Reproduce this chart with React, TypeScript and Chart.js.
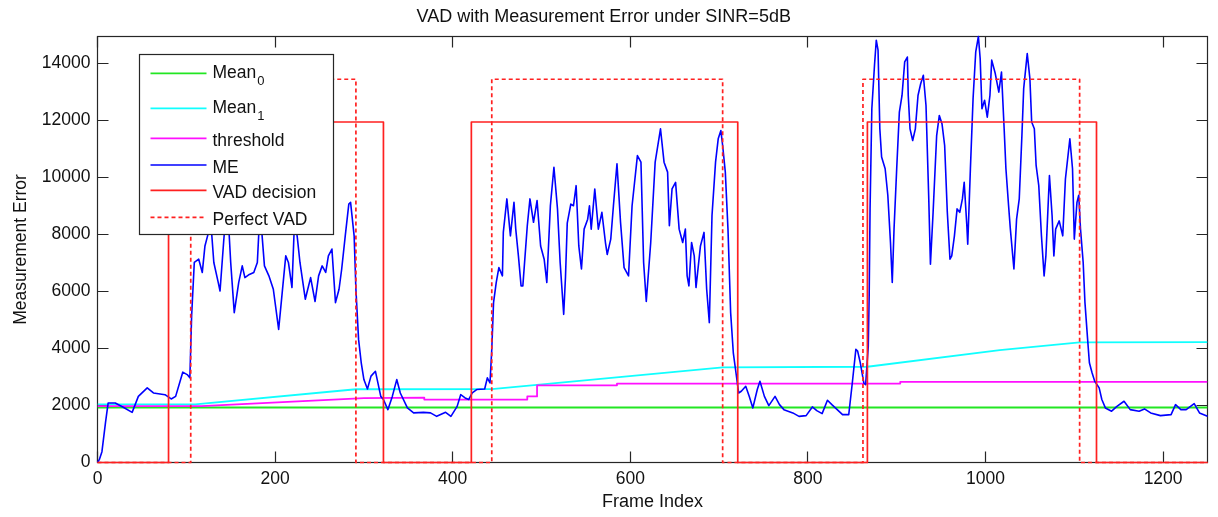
import { useEffect, useRef } from 'react';
import { Chart, registerables } from 'chart.js';

Chart.register(...registerables);

const FONT = "'Liberation Sans', Arial, Helvetica, sans-serif";

const chartTitle = 'VAD with Measurement Error under SINR=5dB';
const xTitle = 'Frame Index';
const yTitle = 'Measurement Error';
const xTicks = [0, 200, 400, 600, 800, 1000, 1200];
const yTicks = [0, 2000, 4000, 6000, 8000, 10000, 12000, 14000];
const xMax = 1250;
const yMax = 14950;

const meFrames = [
  0, 2, 5, 9, 12, 20, 30, 39, 46, 56, 63, 76, 83, 88, 96, 101, 104, 106, 109, 114,
  118, 121, 125, 127, 131, 136, 138, 142, 146, 150, 154, 159, 163, 166, 171, 176, 180, 183, 188, 193,
  198, 204, 208, 212, 215, 219, 222, 225, 228, 234, 240, 245, 249, 253, 257, 260, 264, 266, 268, 272,
  275, 279, 283, 285, 289, 291, 294, 297, 300, 304, 308, 313, 319, 322, 327, 332, 337, 341, 349, 356,
  367, 375, 382, 392, 398, 405, 409, 414, 418, 422, 427, 436, 439, 442, 444, 446, 449, 452, 456, 457,
  461, 465, 469, 471, 474, 477, 479, 484, 487, 491, 495, 499, 503, 506, 510, 514, 518, 521, 525, 527,
  529, 533, 536, 539, 542, 545, 548, 552, 554, 556, 560, 564, 568, 572, 574, 578, 581, 585, 589, 593,
  598, 602, 608, 612, 615, 618, 623, 628, 634, 638, 642, 644, 647, 651, 655, 659, 662, 664, 666, 669,
  672, 674, 679, 683, 686, 689, 692, 696, 699, 702, 704, 707, 710, 713, 716, 719, 722, 725, 730, 734,
  738, 743, 746, 751, 756, 763, 768, 773, 783, 790, 798, 805, 810, 816, 822, 827, 833, 839, 846, 850,
  854, 856, 859, 863, 865, 868, 869, 870, 872, 875, 877, 879, 881, 883, 887, 890, 893, 895, 897, 900,
  903, 906, 909, 912, 913, 915, 918, 921, 924, 927, 930, 933, 936, 938, 941, 945, 948, 951, 954, 957,
  960, 962, 965, 968, 971, 974, 976, 979, 980, 983, 986, 989, 992, 994, 996, 999, 1002, 1005, 1007, 1011,
  1015, 1018, 1021, 1023, 1026, 1028, 1032, 1035, 1038, 1041, 1043, 1047, 1050, 1052, 1055, 1057, 1060, 1063, 1066, 1068,
  1072, 1075, 1077, 1079, 1083, 1087, 1090, 1095, 1098, 1100, 1103, 1105, 1107, 1110, 1112, 1115, 1117, 1120, 1123, 1128,
  1131, 1135, 1142, 1148, 1156, 1163, 1173, 1179, 1186, 1197, 1209, 1214, 1220, 1226, 1235, 1241, 1250,
];
const meValues = [
  0, 100, 380, 1400, 2090, 2090, 1920, 1760, 2320, 2620, 2440, 2380, 2230, 2320, 3170, 3085, 2970, 5140, 7020, 7135,
  6670, 7600, 8075, 8700, 7020, 6315, 6020, 7720, 9300, 7020, 5260, 6315, 6900, 6490, 6600, 6670, 7020, 8900, 6900, 6550,
  6080, 4670, 5960, 7250, 7020, 6140, 8600, 7900, 7020, 5730, 6490, 5650, 6550, 6900, 6670, 7250, 7490, 6550, 5610, 6080,
  6790, 7955, 9070, 9130, 7955, 6080, 4320, 3500, 2910, 2580, 3030, 3200, 2320, 2210, 1855, 2320, 2910, 2440, 1915, 1740,
  1760, 1740, 1620, 1760, 1620, 1970, 2380, 2265, 2210, 2440, 2560, 2580, 2970, 2790, 3970, 5610, 6315, 6840, 6550, 8075,
  9250, 7955, 9130, 8190, 7250, 6200, 6200, 8310, 9250, 8430, 9190, 7600, 7135, 6315, 9010, 10360, 8900, 7020, 5200, 6500,
  8400, 9070, 9010, 9715, 7600, 6790, 8190, 8540, 9010, 8190, 9600, 8190, 8780, 7720, 7300, 7840, 9010, 10480, 8430, 6840,
  6550, 9010, 10770, 10540, 7020, 5650, 7720, 10540, 11710, 10540, 10190, 8310, 9600, 9830, 8190, 7720, 8190, 6550, 6200, 7720,
  7250, 6140, 7600, 8075, 6080, 4910, 8660, 10540, 11360, 11650, 11125, 10190, 8190, 5260, 3850, 3150, 2440, 2500, 2675, 2320,
  1915, 2560, 2850, 2320, 1995, 2320, 2030, 1855, 1740, 1620, 1645, 1950, 1820, 1715, 2185, 2030, 1855, 1680, 1680, 2790,
  3970, 3910, 3500, 2790, 2730, 4085, 5840, 8900, 12415, 13940, 14820, 14470, 11710, 10720, 10310, 9380, 7720, 6315, 8190, 10310,
  12300, 12880, 14060, 14230, 12880, 11710, 11300, 11710, 12880, 13290, 13590, 12530, 9380, 6960, 8780, 11475, 12180, 11890, 11125, 8780,
  7135, 7250, 7955, 8900, 8780, 9250, 9830, 8310, 7660, 10310, 12765, 14410, 14950, 14180, 12415, 12710, 12120, 12880, 14120, 13650,
  13000, 13700, 11710, 10310, 9010, 8190, 6790, 8540, 9250, 11475, 13120, 14350, 13470, 11950, 11710, 10430, 9715, 7955, 6550, 7250,
  10070, 8660, 7250, 8190, 8480, 7955, 9950, 11360, 10310, 7840, 9130, 9380, 8190, 7020, 5610, 4320, 3500, 3150, 2850, 2620,
  2210, 1915, 1800, 1970, 2150, 1855, 1800, 1880, 1740, 1645, 1680, 2030, 1855, 1855, 2065, 1740, 1620,
];

const mean0Frames = [0, 1250];
const mean0Values = [1930, 1930];

const mean1Frames = [0, 110, 291, 444, 704, 867, 1016, 1106, 1250];
const mean1Values = [2040, 2040, 2570, 2575, 3340, 3360, 3942, 4215, 4225];

const thrFrames = [0, 117, 300, 368, 368, 484, 484, 495, 495, 585, 585, 904, 904, 1250];
const thrValues = [1980, 1980, 2260, 2280, 2210, 2210, 2320, 2320, 2710, 2710, 2770, 2770, 2830, 2830];

const vadFrames = [0, 80, 80, 322, 322, 421, 421, 721, 721, 867, 867, 1125, 1125, 1250];
const vadValues = [0, 0, 11950, 11950, 0, 0, 11950, 11950, 0, 0, 11950, 11950, 0, 0];

const perfFrames = [0, 105, 105, 291, 291, 444, 444, 704, 704, 862, 862, 1106, 1106, 1250];
const perfValues = [0, 0, 13450, 13450, 0, 0, 13450, 13450, 0, 0, 13450, 13450, 0, 0];

const GREEN = '#22e622';
const CYAN = '#10ffff';
const MAGENTA = '#ff10ff';
const BLUE = '#0000ff';
const RED = '#ff2020';
const AXIS = '#262626';
const TEXT = '#111111';

const pts = (xs: number[], ys: number[]) => xs.map((x, i) => ({ x, y: ys[i] }));

type LegendItem = { main: string; sub?: string; color: string; dash: number[] };
const legendItems: LegendItem[] = [
  { main: 'Mean', sub: '0', color: GREEN, dash: [] },
  { main: 'Mean', sub: '1', color: CYAN, dash: [] },
  { main: 'threshold', color: MAGENTA, dash: [] },
  { main: 'ME', color: BLUE, dash: [] },
  { main: 'VAD decision', color: RED, dash: [] },
  { main: 'Perfect VAD', color: RED, dash: [4, 3] },
];
const legendRowY = [36.8, 71.8, 101.8, 128.5, 153.8, 180.8];

const frameTicksPlugin = {
  id: 'frameTicks',
  beforeDatasetsDraw(chart: any) {
    const { ctx, chartArea, scales } = chart;
    const { left, right, top, bottom } = chartArea;
    const xs = scales.x;
    const ys = scales.y;
    ctx.save();
    ctx.strokeStyle = AXIS;
    ctx.lineWidth = 1.2;
    ctx.strokeRect(left, top, right - left, bottom - top);
    ctx.beginPath();
    const TL = 11;
    xTicks.forEach((v) => {
      const px = Math.floor(xs.getPixelForValue(v)) + 0.5;
      ctx.moveTo(px, bottom);
      ctx.lineTo(px, bottom - TL);
      ctx.moveTo(px, top);
      ctx.lineTo(px, top + TL);
    });
    yTicks.forEach((v) => {
      const py = Math.floor(ys.getPixelForValue(v)) + 0.5;
      ctx.moveTo(left, py);
      ctx.lineTo(left + TL, py);
      ctx.moveTo(right, py);
      ctx.lineTo(right - TL, py);
    });
    ctx.stroke();
    ctx.restore();
  },
};

const boxLegendPlugin = {
  id: 'boxLegend',
  afterDatasetsDraw(chart: any) {
    const { ctx, chartArea } = chart;
    const bx = chartArea.left + 42;
    const by = chartArea.top + 18;
    const bw = 194;
    const bh = 180;
    ctx.save();
    ctx.fillStyle = '#ffffff';
    ctx.fillRect(bx, by, bw, bh);
    ctx.strokeStyle = AXIS;
    ctx.lineWidth = 1.2;
    ctx.strokeRect(bx, by, bw, bh);
    legendItems.forEach((it, i) => {
      const y = chartArea.top + legendRowY[i];
      ctx.beginPath();
      ctx.strokeStyle = it.color;
      ctx.lineWidth = 1.7;
      ctx.setLineDash(it.dash);
      ctx.moveTo(bx + 11, y);
      ctx.lineTo(bx + 67, y);
      ctx.stroke();
      ctx.setLineDash([]);
      ctx.fillStyle = TEXT;
      ctx.textAlign = 'left';
      ctx.textBaseline = 'alphabetic';
      ctx.font = `17.5px ${FONT}`;
      const tx = bx + 73;
      if (it.sub) {
        ctx.fillText(it.main, tx, y + 5);
        const w = ctx.measureText(it.main).width;
        ctx.font = `13px ${FONT}`;
        ctx.fillText(it.sub, tx + w + 1, y + 11.5);
      } else {
        ctx.fillText(it.main, tx, y + 7.5);
      }
    });
    ctx.restore();
  },
};

export default function App() {
  const ref = useRef<HTMLCanvasElement | null>(null);

  useEffect(() => {
    document.body.style.margin = '0';
    const canvas = ref.current;
    if (!canvas) return;
    const base = { pointRadius: 0, pointHoverRadius: 0, tension: 0, fill: false, borderJoinStyle: 'round' };
    const chart = new Chart(canvas, {
      type: 'line',
      data: {
        datasets: [
          { ...base, label: 'Mean0', data: pts(mean0Frames, mean0Values), borderColor: GREEN, borderWidth: 1.8, order: 6 },
          { ...base, label: 'Mean1', data: pts(mean1Frames, mean1Values), borderColor: CYAN, borderWidth: 1.8, order: 5 },
          { ...base, label: 'threshold', data: pts(thrFrames, thrValues), borderColor: MAGENTA, borderWidth: 1.8, order: 4 },
          { ...base, label: 'ME', data: pts(meFrames, meValues), borderColor: BLUE, borderWidth: 1.6, order: 3, clip: 3 },
          { ...base, label: 'VAD decision', data: pts(vadFrames, vadValues), borderColor: RED, borderWidth: 1.7, order: 2, clip: false },
          { ...base, label: 'Perfect VAD', data: pts(perfFrames, perfValues), borderColor: RED, borderWidth: 1.7, borderDash: [4, 3], order: 1, clip: false },
        ] as any,
      },
      options: {
        animation: false,
        responsive: false,
        maintainAspectRatio: false,
        events: [],
        layout: { padding: { left: 0, right: 10.5, top: 0, bottom: 0 } },
        plugins: {
          legend: { display: false },
          tooltip: { enabled: false },
          title: {
            display: true,
            text: chartTitle,
            color: TEXT,
            font: { family: FONT, size: 18, weight: 'normal' },
            padding: { top: 6.5, bottom: 8.4 },
          },
        },
        scales: {
          x: {
            type: 'linear',
            min: 0,
            max: xMax,
            grid: { display: false, drawTicks: false, tickLength: 0 },
            border: { display: false },
            afterBuildTicks: (s: any) => {
              s.ticks = xTicks.map((v) => ({ value: v }));
            },
            afterFit: (s: any) => {
              s.height = 54.5;
            },
            ticks: {
              padding: 6.5,
              color: TEXT,
              font: { family: FONT, size: 17.5 },
              maxRotation: 0,
              autoSkip: false,
              callback: (v: any) => String(v),
            },
            title: {
              display: true,
              text: xTitle,
              color: TEXT,
              font: { family: FONT, size: 18 },
              padding: { top: 0, bottom: 4.2 },
            },
          },
          y: {
            type: 'linear',
            min: 0,
            max: yMax,
            grid: { display: false, drawTicks: false, tickLength: 0 },
            border: { display: false },
            afterBuildTicks: (s: any) => {
              s.ticks = yTicks.map((v) => ({ value: v }));
            },
            afterFit: (s: any) => {
              s.width = 97.5;
            },
            ticks: {
              padding: 7,
              color: TEXT,
              font: { family: FONT, size: 17.5 },
              autoSkip: false,
              callback: (v: any) => String(v),
            },
            title: {
              display: true,
              text: yTitle,
              color: TEXT,
              font: { family: FONT, size: 17.5 },
              padding: { top: 11, bottom: 0 },
            },
          },
        },
      } as any,
      plugins: [frameTicksPlugin, boxLegendPlugin],
    });
    return () => chart.destroy();
  }, []);

  return (
    <div style={{ width: 1218, height: 517, background: '#ffffff' }}>
      <canvas ref={ref} width={1218} height={517} style={{ display: 'block' }} />
    </div>
  );
}
